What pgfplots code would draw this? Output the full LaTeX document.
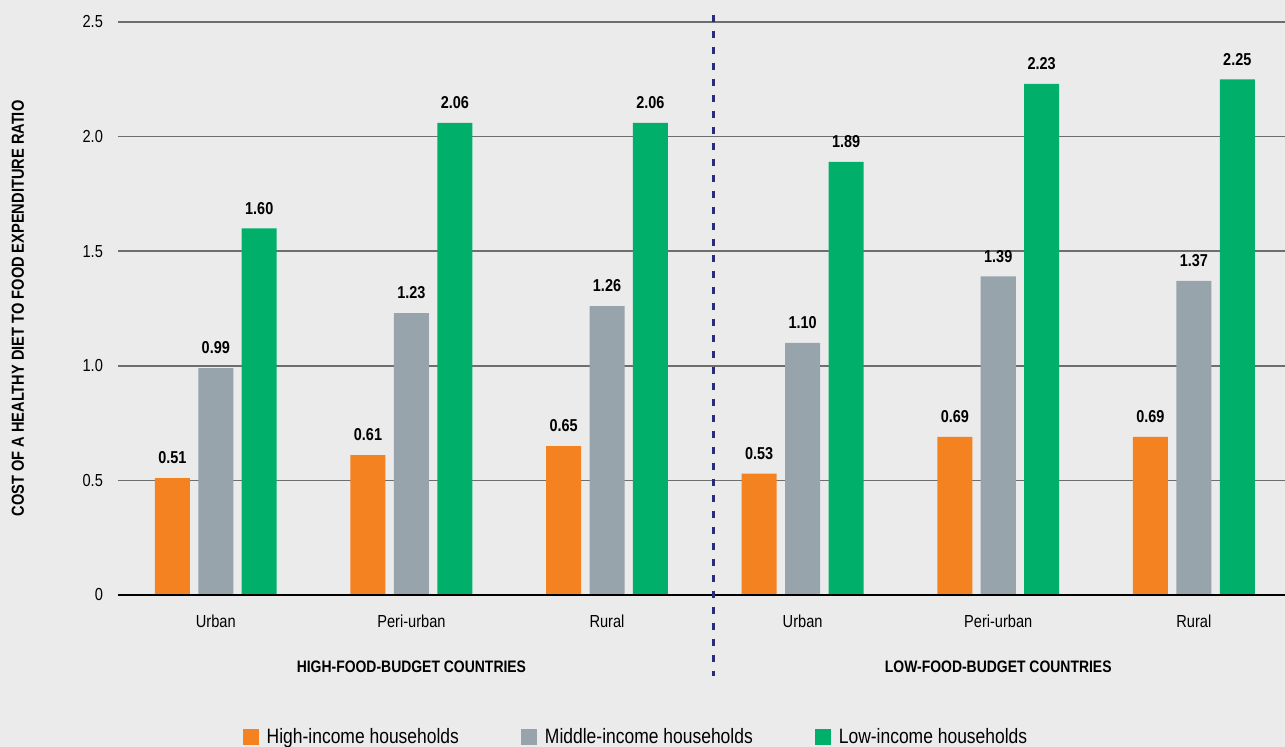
\documentclass[border=0pt]{standalone}
\usepackage{fontspec}
\setmainfont{Liberation Sans}[FakeStretch=0.84]
\usepackage{pgfplots}
\pgfplotsset{compat=1.18}
\definecolor{bg}{HTML}{EBEBEB}
\definecolor{cor}{HTML}{F58220}
\definecolor{cgr}{HTML}{98A4AC}
\definecolor{cgn}{HTML}{00B06A}
\definecolor{cnv}{HTML}{2A2C78}
\definecolor{gridc}{HTML}{6E6E6E}
\newcommand{\fs}{\fontsize{8.7}{10}\selectfont}
\begin{document}
\begin{tikzpicture}
\fill[bg] (-59pt,-76pt) rectangle (583.5pt,297.5pt);
\begin{axis}[
  at={(0,0)}, anchor=south west,
  scale only axis, width=583.5pt, height=286.5pt,
  xmin=-0.5, xmax=5.466, ymin=0, ymax=2.5,
  clip=false,
  axis line style={draw=none},
  tick style={draw=none},
  ymajorgrids, grid style={gridc, line width=0.8pt},
  ytick={0,0.5,1,1.5,2,2.5},
  yticklabels={0,0.5,1.0,1.5,2.0,2.5},
  xtick={0,1,2,3,4,5},
  xticklabels={Urban,Peri-urban,Rural,Urban,Peri-urban,Rural},
  /pgf/number format/assume math mode=true,
  yticklabel style={font=\fs, xshift=-4pt},
  xticklabel style={font=\fs, yshift=-2pt},
  ylabel={\bfseries COST OF A HEALTHY DIET TO FOOD EXPENDITURE RATIO},
  ylabel style={font=\fs, at={(axis description cs:-0.0857,0.5)}, anchor=center, rotate=0},
  ybar, bar width=0.179,
  point meta=explicit symbolic,
  nodes near coords,
  every node near coord/.append style={font=\bfseries\fontsize{8.6}{10}\selectfont, text=black, yshift=3.5pt},
  legend columns=3,
  legend style={draw=none, fill=none, font=\fontsize{10.4}{12}\selectfont,
    at={(0.4447,-0.2478)}, anchor=center,
    /tikz/every even column/.append style={column sep=29pt}},
  legend cell align=left,
]
\addplot[fill=cor, draw=none, bar shift=-0.222,
  legend image code/.code={\fill[cor] (0pt,-4pt) rectangle (8pt,4pt); \path (10pt,0pt);}]
  coordinates {(0,0.51)[0.51] (1,0.61)[0.61] (2,0.65)[0.65] (3,0.53)[0.53] (4,0.69)[0.69] (5,0.69)[0.69]};
\addplot[fill=cgr, draw=none, bar shift=0,
  legend image code/.code={\fill[cgr] (0pt,-4pt) rectangle (8pt,4pt); \path (10pt,0pt);}]
  coordinates {(0,0.99)[0.99] (1,1.23)[1.23] (2,1.26)[1.26] (3,1.10)[1.10] (4,1.39)[1.39] (5,1.37)[1.37]};
\addplot[fill=cgn, draw=none, bar shift=0.222,
  legend image code/.code={\fill[cgn] (0pt,-4pt) rectangle (8pt,4pt); \path (10pt,0pt);}]
  coordinates {(0,1.60)[1.60] (1,2.06)[2.06] (2,2.06)[2.06] (3,1.89)[1.89] (4,2.23)[2.23] (5,2.25)[2.25]};
\legend{High-income households, Middle-income households, Low-income households}
\draw[black, line width=1.35pt] (axis cs:-0.5,0) -- (axis cs:5.466,0);
\draw[cnv, line width=1.5pt, dash pattern=on 3.8pt off 4.2pt] (axis cs:2.542,2.531) -- (axis cs:2.542,-0.353);
\node[font=\bfseries\fontsize{8.3}{10}\selectfont] at ([yshift=-36pt]axis cs:1,0) {HIGH-FOOD-BUDGET COUNTRIES};
\node[font=\bfseries\fontsize{8.3}{10}\selectfont] at ([yshift=-36pt]axis cs:4,0) {LOW-FOOD-BUDGET COUNTRIES};
\end{axis}
\pgfresetboundingbox
\path (-59pt,-76pt) rectangle (583.5pt,297.5pt);
\end{tikzpicture}
\end{document}
